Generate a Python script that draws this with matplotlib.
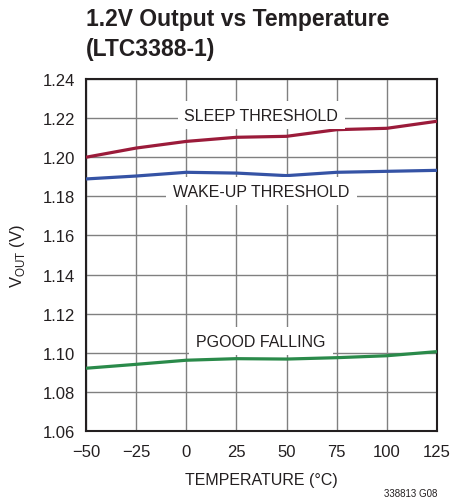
import matplotlib
matplotlib.use('Agg')
import matplotlib.pyplot as plt

plt.rcParams['font.family'] = ['Liberation Sans Narrow', 'Liberation Sans', 'DejaVu Sans']

# temperature points (degC)
temp = [-50, -25, 0, 25, 50, 75, 100, 125]
# VOUT (V)
sleep_thr = [1.2000, 1.2047, 1.2081, 1.2102, 1.2107, 1.2141, 1.2148, 1.2184]
wake_thr = [1.1889, 1.1904, 1.1923, 1.1919, 1.1906, 1.1923, 1.1928, 1.1933]
pgood_fall = [1.0921, 1.0941, 1.0962, 1.0970, 1.0968, 1.0975, 1.0985, 1.1006]

x_ticks = [-50, -25, 0, 25, 50, 75, 100, 125]
x_labels = ['\u221250', '\u221225', '0', '25', '50', '75', '100', '125']
y_ticks = [1.06, 1.08, 1.10, 1.12, 1.14, 1.16, 1.18, 1.20, 1.22, 1.24]

fig = plt.figure(figsize=(4.51, 5.02), dpi=100)
ax = fig.add_axes([0.1907, 0.1394, 0.7783, 0.7012])

ax.plot(temp, sleep_thr, color='#9b1b3a', linewidth=2.3, solid_capstyle='butt', zorder=3)
ax.plot(temp, wake_thr, color='#3553a5', linewidth=2.3, solid_capstyle='butt', zorder=3)
ax.plot(temp, pgood_fall, color='#2a8a4a', linewidth=2.3, solid_capstyle='butt', zorder=3)

ax.set_xlim(-50, 125)
ax.set_ylim(1.06, 1.24)
ax.set_xticks(x_ticks)
ax.set_xticklabels(x_labels)
ax.set_yticks(y_ticks)
ax.set_yticklabels([f'{v:.2f}' for v in y_ticks])
ax.tick_params(axis='both', length=0, labelsize=12, colors='#231f20')
ax.tick_params(axis='x', pad=9)
ax.tick_params(axis='y', pad=8)
ax.grid(True, color='#808080', linewidth=1.0)
ax.set_axisbelow(True)
for s in ax.spines.values():
    s.set_linewidth(1.5)
    s.set_color('#231f20')

box = dict(facecolor='white', edgecolor='none', pad=5)
ax.text(37.4, 1.2216, 'SLEEP THRESHOLD', ha='center', va='center', fontsize=11.5,
        color='#231f20', bbox=box, zorder=4)
ax.text(37.5, 1.1827, 'WAKE-UP THRESHOLD', ha='center', va='center', fontsize=11.5,
        color='#231f20', bbox=box, zorder=4)
ax.text(37.3, 1.1060, 'PGOOD FALLING', ha='center', va='center', fontsize=11.5,
        color='#231f20', bbox=box, zorder=4)

ax.set_xlabel('TEMPERATURE (\u00b0C)', fontsize=11.5, color='#231f20', labelpad=10)
ax.set_ylabel('V$_{\\mathregular{OUT}}$ (V)', fontsize=12, color='#231f20', labelpad=11)

fig.text(86 / 451, 1 - 8 / 502, '1.2V Output vs Temperature\n(LTC3388-1)', ha='left', va='top',
         fontsize=16.5, fontweight='bold', color='#231f20', linespacing=1.4)
fig.text(437 / 451, 1 - 494 / 502, '338813 G08', ha='right', va='center', fontsize=7,
         color='#231f20')

fig.savefig('out.png', dpi=100)
